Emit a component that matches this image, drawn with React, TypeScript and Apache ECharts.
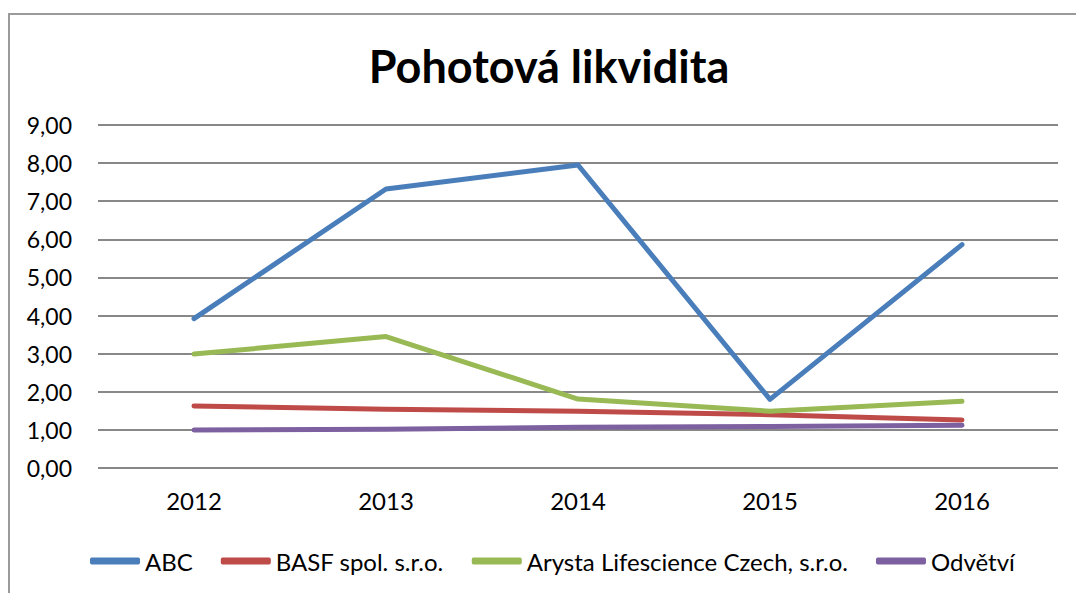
import React, { useEffect, useRef } from "react";
import * as echarts from "echarts";

const years = ["2012", "2013", "2014", "2015", "2016"];
const abc = [3.92, 7.32, 7.95, 1.8, 5.86];
const basf = [1.63, 1.54, 1.49, 1.4, 1.26];
const arysta = [2.99, 3.45, 1.81, 1.49, 1.75];
const odvetvi = [1.0, 1.02, 1.07, 1.09, 1.12];
const seriesNames = ["ABC", "BASF spol. s.r.o.", "Arysta Lifescience Czech, s.r.o.", "Odvětví"];
const colors = ["#4a7ebb", "#be4b48", "#98b954", "#7d60a0"];

const FONT = "Lato";

export default function App() {
  const ref = useRef<HTMLDivElement>(null);
  useEffect(() => {
    if (!ref.current) return;
    const chart = echarts.init(ref.current, undefined, { renderer: "svg" });
    const data = [abc, basf, arysta, odvetvi];
    chart.setOption({
      animation: false,
      backgroundColor: "#ffffff",
      title: {
        text: "Pohotová likvidita",
        left: 544,
        textAlign: "center",
        top: 38,
        textStyle: { fontFamily: FONT, fontWeight: "bold", fontSize: 45, color: "#000" },
      },
      graphic: [
        {
          type: "rect",
          shape: { x: 9, y: 14, width: 1100, height: 600 },
          style: { fill: "none", stroke: "#9a9a9a", lineWidth: 2 },
          silent: true,
        },
      ],
      legend: {
        left: 85,
        top: 544,
        itemWidth: 50,
        itemHeight: 7,
        itemGap: 28,
        icon: "roundRect",
        textStyle: { fontFamily: FONT, fontSize: 24, color: "#000" },
        data: seriesNames,
      },
      grid: { left: 98, right: 18, top: 125, bottom: 125, containLabel: false },
      xAxis: {
        type: "category",
        data: years,
        boundaryGap: true,
        axisLine: { show: false },
        axisTick: { show: false },
        axisLabel: { fontFamily: FONT, fontSize: 24, color: "#000", margin: 20 },
      },
      yAxis: {
        type: "value",
        min: 0,
        max: 9,
        interval: 1,
        axisLine: { show: false },
        axisTick: { show: false },
        splitLine: { lineStyle: { color: "#888888", width: 2 } },
        axisLabel: {
          fontFamily: FONT,
          fontSize: 23,
          color: "#000",
          margin: 26,
          formatter: (v: number) => v.toFixed(2).replace(".", ","),
        },
      },
      series: data.map((d, i) => ({
        name: seriesNames[i],
        type: "line",
        data: d,
        symbol: "none",
        color: colors[i],
        lineStyle: { width: 5, color: colors[i], cap: "round", join: "round" },
      })),
    });
    return () => chart.dispose();
  }, []);
  return (
    <div
      ref={ref}
      style={{ position: "fixed", left: 0, top: 0, width: 1076, height: 593 }}
    />
  );
}
